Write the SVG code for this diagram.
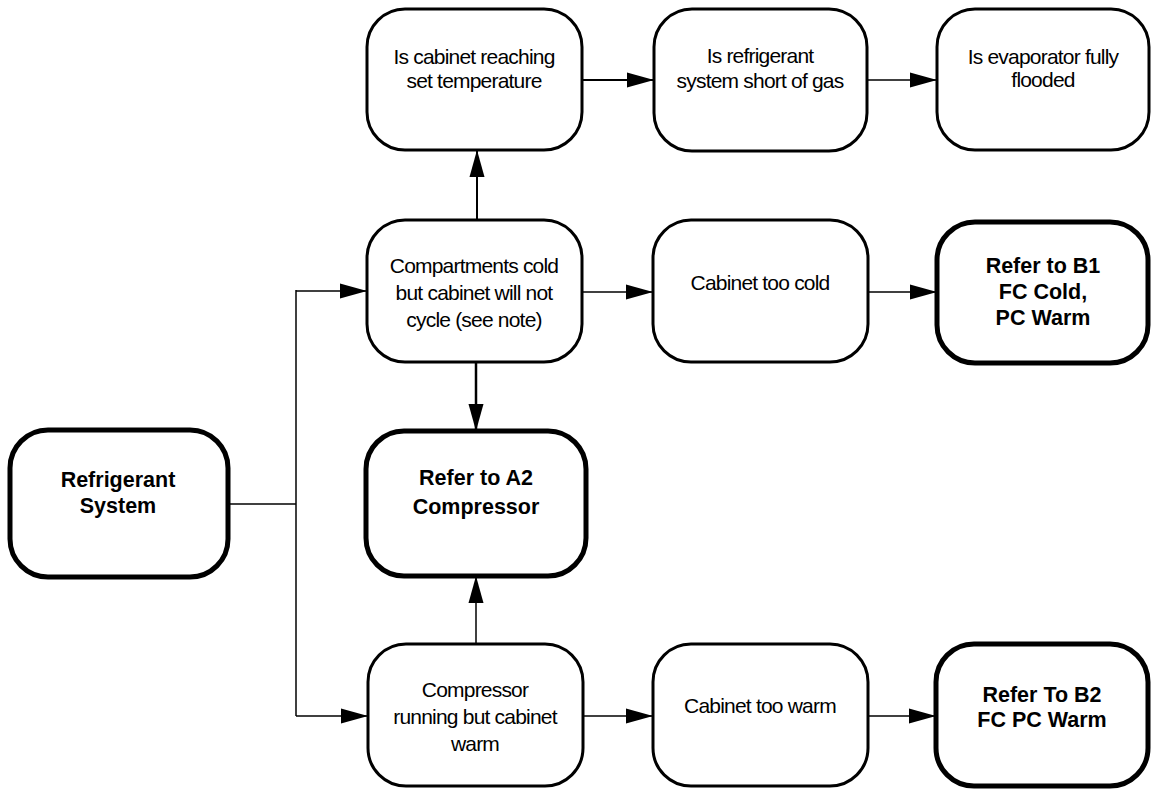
<svg xmlns="http://www.w3.org/2000/svg" width="1154" height="790" viewBox="0 0 1154 790">
  <style>
    .box { fill: #ffffff; stroke: #000000; stroke-width: 3; }
    .box.key { stroke-width: 5; }
    .lbl { font-family: "Liberation Sans", Arial, sans-serif; font-size: 21px; letter-spacing: -0.8px; fill: #000000; text-anchor: middle; }
    .lbl.key { font-weight: bold; font-size: 21.5px; letter-spacing: 0; }
    .wire { fill: none; stroke: #000000; stroke-width: 1.5; }
    .wire.mid { stroke-width: 2; }
    .wire.heavy { stroke-width: 2.5; }
  </style>
  <defs>
    <marker id="arrow" markerUnits="userSpaceOnUse" markerWidth="28" markerHeight="17" refX="27" refY="8.5" orient="auto">
      <path d="M0,1 L27,8.5 L0,16 z" fill="#000000"/>
    </marker>
  </defs>

  <rect width="1154" height="790" fill="#ffffff"/>

  <!-- connectors -->
  <g id="connectors">
    <path class="wire" d="M228,504 H296"/>
    <path class="wire" d="M296,290 V716"/>
    <path class="wire" d="M296,291 H367" marker-end="url(#arrow)"/>
    <path class="wire" d="M296,716 H368" marker-end="url(#arrow)"/>
    <path class="wire mid" d="M477,220 V150" marker-end="url(#arrow)"/>
    <path class="wire heavy" d="M476,362 V431" marker-end="url(#arrow)"/>
    <path class="wire" d="M476,644 V576" marker-end="url(#arrow)"/>
    <path class="wire mid" d="M582,80 H654" marker-end="url(#arrow)"/>
    <path class="wire" d="M867,80 H937" marker-end="url(#arrow)"/>
    <path class="wire" d="M582,292 H653" marker-end="url(#arrow)"/>
    <path class="wire" d="M868,292 H937" marker-end="url(#arrow)"/>
    <path class="wire" d="M583,716 H653" marker-end="url(#arrow)"/>
    <path class="wire" d="M868,716 H936" marker-end="url(#arrow)"/>
  </g>

  <!-- nodes -->
  <g id="refrigerant-system">
    <rect class="box key" x="10" y="430" width="218" height="147" rx="38"/>
    <text class="lbl key" x="118" y="487">Refrigerant</text>
    <text class="lbl key" x="118" y="513">System</text>
  </g>

  <g id="reaching-set-temp">
    <rect class="box" x="367" y="9" width="215" height="141" rx="38"/>
    <text class="lbl" x="474" y="64">Is cabinet reaching</text>
    <text class="lbl" x="474" y="88">set temperature</text>
  </g>

  <g id="short-of-gas">
    <rect class="box" x="654" y="9" width="213" height="142" rx="38"/>
    <text class="lbl" x="760" y="63">Is refrigerant</text>
    <text class="lbl" x="760" y="88">system short of gas</text>
  </g>

  <g id="evaporator-flooded">
    <rect class="box" x="937" y="9" width="212" height="141" rx="38"/>
    <text class="lbl" x="1043" y="64">Is evaporator fully</text>
    <text class="lbl" x="1043" y="87">flooded</text>
  </g>

  <g id="compartments-cold">
    <rect class="box" x="367" y="220" width="215" height="142" rx="38"/>
    <text class="lbl" x="474" y="273">Compartments cold</text>
    <text class="lbl" x="474" y="300">but cabinet will not</text>
    <text class="lbl" x="474" y="327">cycle (see note)</text>
  </g>

  <g id="cabinet-too-cold">
    <rect class="box" x="653" y="220" width="215" height="142" rx="38"/>
    <text class="lbl" x="760" y="290">Cabinet too cold</text>
  </g>

  <g id="refer-b1">
    <rect class="box key" x="937" y="222" width="211" height="141" rx="38"/>
    <text class="lbl key" x="1043" y="273">Refer to B1</text>
    <text class="lbl key" x="1043" y="299">FC Cold,</text>
    <text class="lbl key" x="1043" y="325">PC Warm</text>
  </g>

  <g id="refer-a2">
    <rect class="box key" x="366" y="431" width="220" height="145" rx="38"/>
    <text class="lbl key" x="476" y="485">Refer to A2</text>
    <text class="lbl key" x="476" y="514">Compressor</text>
  </g>

  <g id="compressor-running">
    <rect class="box" x="368" y="644" width="215" height="142" rx="38"/>
    <text class="lbl" x="475" y="697">Compressor</text>
    <text class="lbl" x="475" y="724">running but cabinet</text>
    <text class="lbl" x="475" y="751">warm</text>
  </g>

  <g id="cabinet-too-warm">
    <rect class="box" x="653" y="644" width="215" height="142" rx="38"/>
    <text class="lbl" x="760" y="713">Cabinet too warm</text>
  </g>

  <g id="refer-b2">
    <rect class="box key" x="936" y="644" width="212" height="142" rx="38"/>
    <text class="lbl key" x="1042" y="702">Refer To B2</text>
    <text class="lbl key" x="1042" y="727">FC PC Warm</text>
  </g>
</svg>
